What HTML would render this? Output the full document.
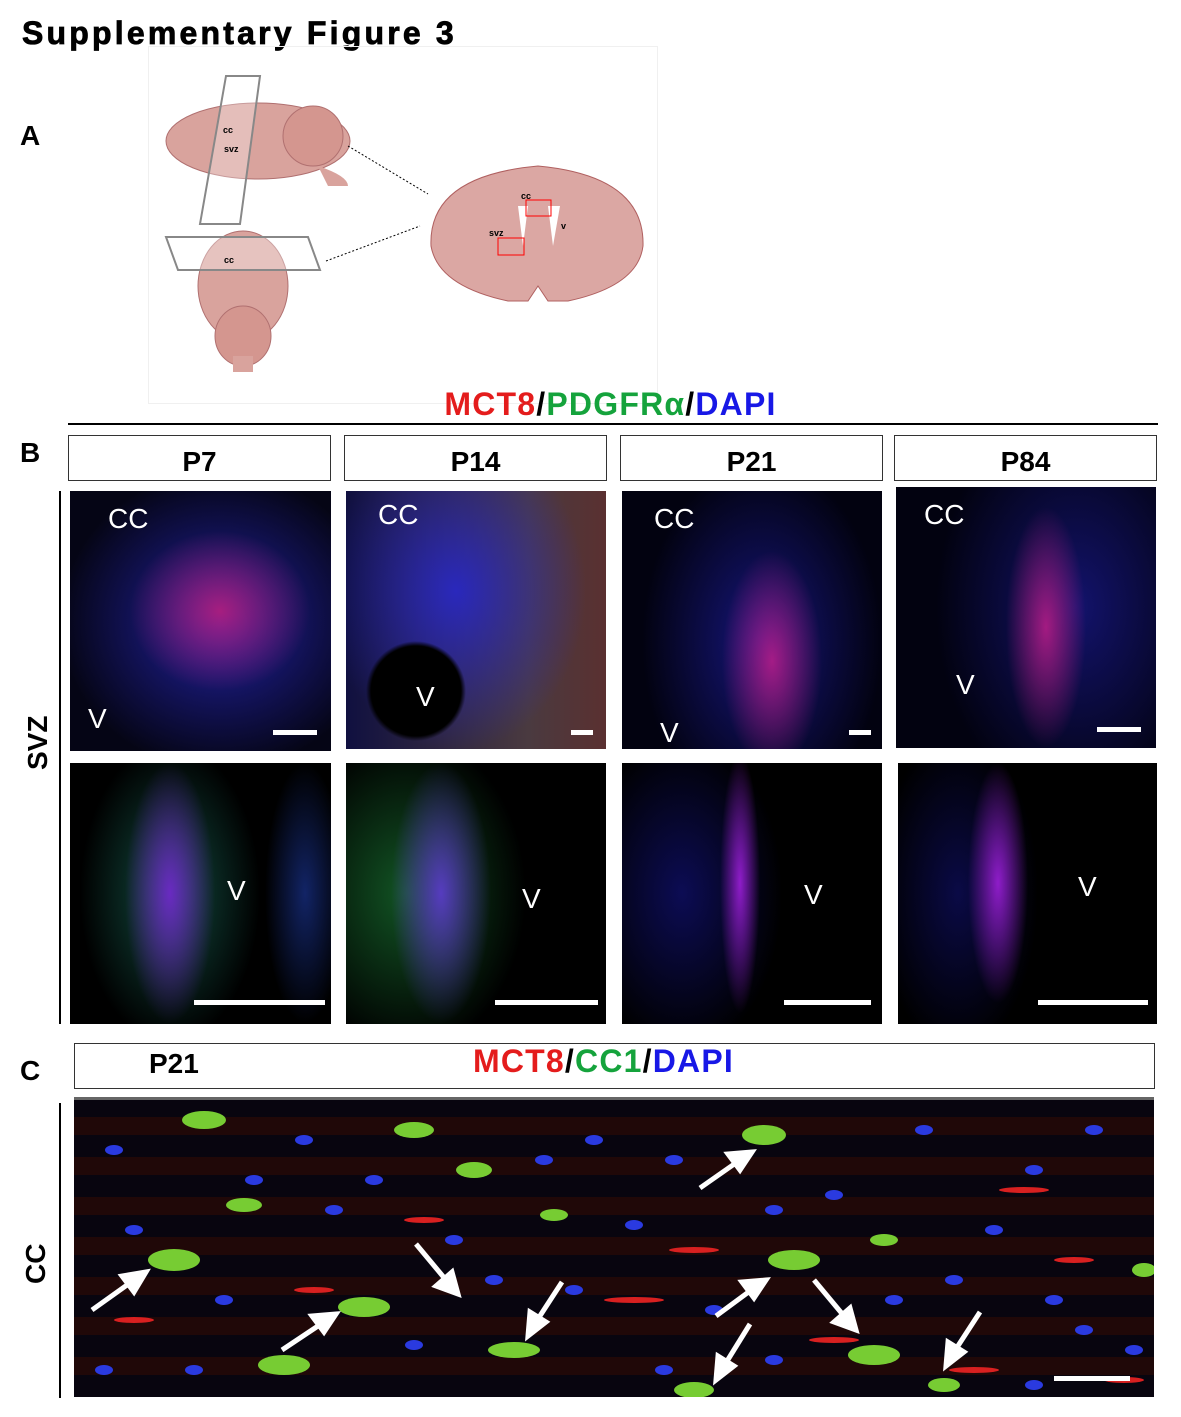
<!DOCTYPE html>
<html><head><meta charset="utf-8"><style>
*{margin:0;padding:0;box-sizing:border-box}
body{width:1181px;height:1417px;background:#fff;position:relative;font-family:"Liberation Sans",sans-serif;overflow:hidden}
.abs{position:absolute}
.lbl{position:absolute;font-weight:bold;font-size:28px;color:#000}
.box{position:absolute;border:1px solid #333;height:46px;text-align:center;font-weight:bold;font-size:28px;line-height:52px}
.img{position:absolute;background:#000;overflow:hidden}
.w{position:absolute;color:#fff;font-size:28px}
.sb{position:absolute;height:5px;background:#fff}
</style></head><body>
<div class="lbl" style="left:22px;top:15px;font-size:32px;letter-spacing:3.2px;-webkit-text-stroke:0.8px #000">Supplementary Figure 3</div>
<div class="lbl" style="left:20px;top:120px">A</div>
<div class="abs" style="left:148px;top:46px;width:510px;height:358px;border:1px solid #f0f0f0"></div>
<svg class="abs" style="left:148px;top:46px" width="510" height="358">
<ellipse cx="110" cy="95" rx="92" ry="38" fill="#d9a39d" stroke="#b07070"/>
<ellipse cx="165" cy="90" rx="30" ry="30" fill="#d4968f" stroke="#b07070"/>
<path d="M170 120 Q200 130 200 140 L180 140 Z" fill="#d9a39d"/>
<polygon points="78,30 112,30 92,178 52,178" fill="rgba(255,255,255,0.3)" stroke="#888" stroke-width="2"/>
<text x="75" y="87" font-size="9" font-weight="bold">cc</text><text x="76" y="106" font-size="9" font-weight="bold">svz</text>
<ellipse cx="95" cy="240" rx="45" ry="55" fill="#d9a39d" stroke="#b07070"/>
<ellipse cx="95" cy="290" rx="28" ry="30" fill="#d4968f" stroke="#b07070"/>
<rect x="85" y="310" width="20" height="16" fill="#d9a39d"/>
<polygon points="18,191 160,191 172,224 30,224" fill="rgba(255,255,255,0.35)" stroke="#888" stroke-width="2"/>
<text x="76" y="217" font-size="9" font-weight="bold">cc</text>
<line x1="200" y1="100" x2="280" y2="148" stroke="#000" stroke-dasharray="2,2"/>
<line x1="178" y1="215" x2="272" y2="180" stroke="#000" stroke-dasharray="2,2"/>
<path d="M390 120 Q497 130 495 200 Q490 240 420 255 L400 255 L390 240 L380 255 L360 255 Q290 240 283 200 Q280 130 390 120Z" fill="#dba7a3" stroke="#b06060"/>
<path d="M370 160 L375 200 L380 160Z M400 160 L405 200 L412 160Z" fill="#fff"/>
<rect x="378" y="154" width="25" height="16" fill="none" stroke="red"/>
<rect x="350" y="192" width="26" height="17" fill="none" stroke="red"/>
<text x="373" y="153" font-size="9" font-weight="bold">cc</text><text x="341" y="190" font-size="9" font-weight="bold">svz</text><text x="413" y="183" font-size="9" font-weight="bold">v</text>
</svg>
<div class="abs" style="left:0;width:1221px;text-align:center;top:386px;font-weight:bold;font-size:32px;letter-spacing:1.2px"><span style="color:#e41c1c">MCT8</span>/<span style="color:#15a33c">PDGFRα</span>/<span style="color:#1818e6">DAPI</span></div>
<div class="abs" style="left:68px;top:423px;width:1090px;height:2px;background:#000"></div>
<div class="lbl" style="left:20px;top:437px">B</div>
<div class="box" style="left:68px;top:435px;width:263px">P7</div>
<div class="box" style="left:344px;top:435px;width:263px">P14</div>
<div class="box" style="left:620px;top:435px;width:263px">P21</div>
<div class="box" style="left:894px;top:435px;width:263px">P84</div>
<div class="abs" style="left:59px;top:491px;width:2px;height:533px;background:#000"></div>
<div class="lbl" style="left:22px;top:770px;transform:rotate(-90deg);transform-origin:0 0">SVZ</div>

<div class="img" style="left:70px;top:491px;width:261px;height:260px;background:radial-gradient(ellipse 90px 80px at 150px 120px,rgba(200,30,120,.8),transparent),radial-gradient(ellipse 160px 150px at 150px 130px,rgba(40,40,200,.8),transparent),#050515"><span class="w" style="left:38px;top:12px">CC</span><span class="w" style="left:18px;top:212px">V</span><div class="sb" style="left:203px;top:239px;width:44px"></div></div>
<div class="img" style="left:346px;top:491px;width:260px;height:258px;background:radial-gradient(circle 50px at 70px 200px,#000 90%,transparent),radial-gradient(ellipse 130px 160px at 110px 100px,rgba(40,40,210,.85),transparent),linear-gradient(90deg,#101040,#4a3a40 70%,#5a3030)"><span class="w" style="left:32px;top:8px">CC</span><span class="w" style="left:70px;top:190px">V</span><div class="sb" style="left:225px;top:239px;width:22px"></div></div>
<div class="img" style="left:622px;top:491px;width:260px;height:258px;background:radial-gradient(ellipse 50px 110px at 150px 170px,rgba(200,30,140,.8),transparent),radial-gradient(ellipse 120px 180px at 140px 150px,rgba(30,30,170,.7),transparent),#020210"><span class="w" style="left:32px;top:12px">CC</span><span class="w" style="left:38px;top:226px">V</span><div class="sb" style="left:227px;top:239px;width:22px"></div></div>
<div class="img" style="left:896px;top:487px;width:260px;height:261px;background:radial-gradient(ellipse 40px 120px at 150px 140px,rgba(200,30,140,.8),transparent),radial-gradient(ellipse 140px 200px at 180px 120px,rgba(30,30,170,.6),transparent),#020210"><span class="w" style="left:28px;top:12px">CC</span><span class="w" style="left:60px;top:182px">V</span><div class="sb" style="left:201px;top:240px;width:44px"></div></div>

<div class="img" style="left:70px;top:763px;width:261px;height:261px;background:radial-gradient(ellipse 45px 130px at 100px 130px,rgba(110,40,200,.95),transparent),radial-gradient(ellipse 90px 150px at 100px 130px,rgba(30,130,110,.6),transparent),radial-gradient(ellipse 40px 130px at 235px 130px,rgba(30,60,170,.6),transparent),#000"><span class="w" style="left:157px;top:112px">V</span><div class="sb" style="left:124px;top:237px;width:131px"></div></div>
<div class="img" style="left:346px;top:763px;width:260px;height:261px;background:radial-gradient(ellipse 50px 130px at 95px 130px,rgba(90,60,200,.95),transparent),radial-gradient(ellipse 120px 160px at 60px 130px,rgba(30,140,60,.6),transparent),#000"><span class="w" style="left:176px;top:120px">V</span><div class="sb" style="left:149px;top:237px;width:103px"></div></div>
<div class="img" style="left:622px;top:763px;width:260px;height:261px;background:radial-gradient(ellipse 20px 130px at 118px 120px,rgba(150,30,210,.95),transparent),radial-gradient(ellipse 100px 160px at 60px 130px,rgba(20,20,140,.6),transparent),#000"><span class="w" style="left:182px;top:116px">V</span><div class="sb" style="left:162px;top:237px;width:87px"></div></div>
<div class="img" style="left:898px;top:763px;width:259px;height:261px;background:radial-gradient(ellipse 30px 120px at 100px 120px,rgba(150,30,210,.95),transparent),radial-gradient(ellipse 80px 160px at 60px 130px,rgba(20,20,140,.5),transparent),#000"><span class="w" style="left:180px;top:108px">V</span><div class="sb" style="left:140px;top:237px;width:110px"></div></div>

<div class="lbl" style="left:20px;top:1055px">C</div>
<div class="box" style="left:74px;top:1043px;width:1081px;text-align:left"><span style="position:absolute;left:74px;top:-6px">P21</span><span style="position:absolute;left:398px;top:-9px;font-size:32px;letter-spacing:1.2px"><span style="color:#e41c1c">MCT8</span>/<span style="color:#15a33c">CC1</span>/<span style="color:#1818e6">DAPI</span></span></div>
<div class="abs" style="left:59px;top:1103px;width:2px;height:295px;background:#000"></div>
<div class="lbl" style="left:20px;top:1284px;transform:rotate(-90deg);transform-origin:0 0">CC</div>
<div class="img" style="left:74px;top:1097px;width:1080px;height:300px;border-top:3px solid #666;background:repeating-linear-gradient(0deg,#08050f 0 22px,#200808 22px 40px);">
<svg width="1080" height="300" style="position:absolute;left:0;top:0">
<g fill="#7c3"><ellipse cx="100" cy="160" rx="26" ry="11"/><ellipse cx="290" cy="207" rx="26" ry="10"/><ellipse cx="690" cy="35" rx="22" ry="10"/><ellipse cx="720" cy="160" rx="26" ry="10"/><ellipse cx="800" cy="255" rx="26" ry="10"/><ellipse cx="210" cy="265" rx="26" ry="10"/><ellipse cx="440" cy="250" rx="26" ry="8"/><ellipse cx="130" cy="20" rx="22" ry="9"/><ellipse cx="340" cy="30" rx="20" ry="8"/><ellipse cx="400" cy="70" rx="18" ry="8"/><ellipse cx="170" cy="105" rx="18" ry="7"/><ellipse cx="620" cy="290" rx="20" ry="8"/><ellipse cx="870" cy="285" rx="16" ry="7"/><ellipse cx="1070" cy="170" rx="12" ry="7"/><ellipse cx="480" cy="115" rx="14" ry="6"/><ellipse cx="810" cy="140" rx="14" ry="6"/></g>
<g fill="#d82020"><ellipse cx="240" cy="190" rx="20" ry="3"/><ellipse cx="560" cy="200" rx="30" ry="3"/><ellipse cx="950" cy="90" rx="25" ry="3"/><ellipse cx="1000" cy="160" rx="20" ry="3"/><ellipse cx="620" cy="150" rx="25" ry="3"/><ellipse cx="760" cy="240" rx="25" ry="3"/><ellipse cx="60" cy="220" rx="20" ry="3"/><ellipse cx="350" cy="120" rx="20" ry="3"/><ellipse cx="900" cy="270" rx="25" ry="3"/><ellipse cx="1050" cy="280" rx="20" ry="3"/></g>
<g fill="#2a3ae0"><ellipse cx="60" cy="130" rx="9" ry="5"/><ellipse cx="180" cy="80" rx="9" ry="5"/><ellipse cx="260" cy="110" rx="9" ry="5"/><ellipse cx="380" cy="140" rx="9" ry="5"/><ellipse cx="470" cy="60" rx="9" ry="5"/><ellipse cx="560" cy="125" rx="9" ry="5"/><ellipse cx="640" cy="210" rx="9" ry="5"/><ellipse cx="760" cy="95" rx="9" ry="5"/><ellipse cx="880" cy="180" rx="9" ry="5"/><ellipse cx="960" cy="70" rx="9" ry="5"/><ellipse cx="1010" cy="230" rx="9" ry="5"/><ellipse cx="340" cy="245" rx="9" ry="5"/><ellipse cx="120" cy="270" rx="9" ry="5"/><ellipse cx="920" cy="130" rx="9" ry="5"/><ellipse cx="590" cy="270" rx="9" ry="5"/><ellipse cx="40" cy="50" rx="9" ry="5"/><ellipse cx="230" cy="40" rx="9" ry="5"/><ellipse cx="520" cy="40" rx="9" ry="5"/><ellipse cx="600" cy="60" rx="9" ry="5"/><ellipse cx="850" cy="30" rx="9" ry="5"/><ellipse cx="1020" cy="30" rx="9" ry="5"/><ellipse cx="150" cy="200" rx="9" ry="5"/><ellipse cx="420" cy="180" rx="9" ry="5"/><ellipse cx="500" cy="190" rx="9" ry="5"/><ellipse cx="700" cy="110" rx="9" ry="5"/><ellipse cx="980" cy="200" rx="9" ry="5"/><ellipse cx="1060" cy="250" rx="9" ry="5"/><ellipse cx="30" cy="270" rx="9" ry="5"/><ellipse cx="700" cy="260" rx="9" ry="5"/><ellipse cx="960" cy="285" rx="9" ry="5"/><ellipse cx="300" cy="80" rx="9" ry="5"/><ellipse cx="820" cy="200" rx="9" ry="5"/></g>
<g stroke="#fff" stroke-width="5" fill="#fff">
<line x1="18" y1="210" x2="60" y2="180"/><polygon points="72,172 48,176 60,192"/>
<line x1="208" y1="250" x2="250" y2="222"/><polygon points="262,214 238,216 250,232"/>
<line x1="342" y1="144" x2="372" y2="180"/><polygon points="384,194 362,186 378,172"/>
<line x1="488" y1="182" x2="462" y2="222"/><polygon points="454,236 456,212 472,222"/>
<line x1="626" y1="88" x2="666" y2="60"/><polygon points="678,52 654,54 666,70"/>
<line x1="642" y1="216" x2="680" y2="188"/><polygon points="692,180 668,182 680,198"/>
<line x1="740" y1="180" x2="770" y2="216"/><polygon points="782,230 760,222 776,208"/>
<line x1="676" y1="224" x2="650" y2="266"/><polygon points="642,280 644,256 660,266"/>
<line x1="906" y1="212" x2="880" y2="252"/><polygon points="872,266 874,242 890,252"/>
</g>
<rect x="980" y="276" width="76" height="5" fill="#fff"/>
</svg></div>
</body></html>
